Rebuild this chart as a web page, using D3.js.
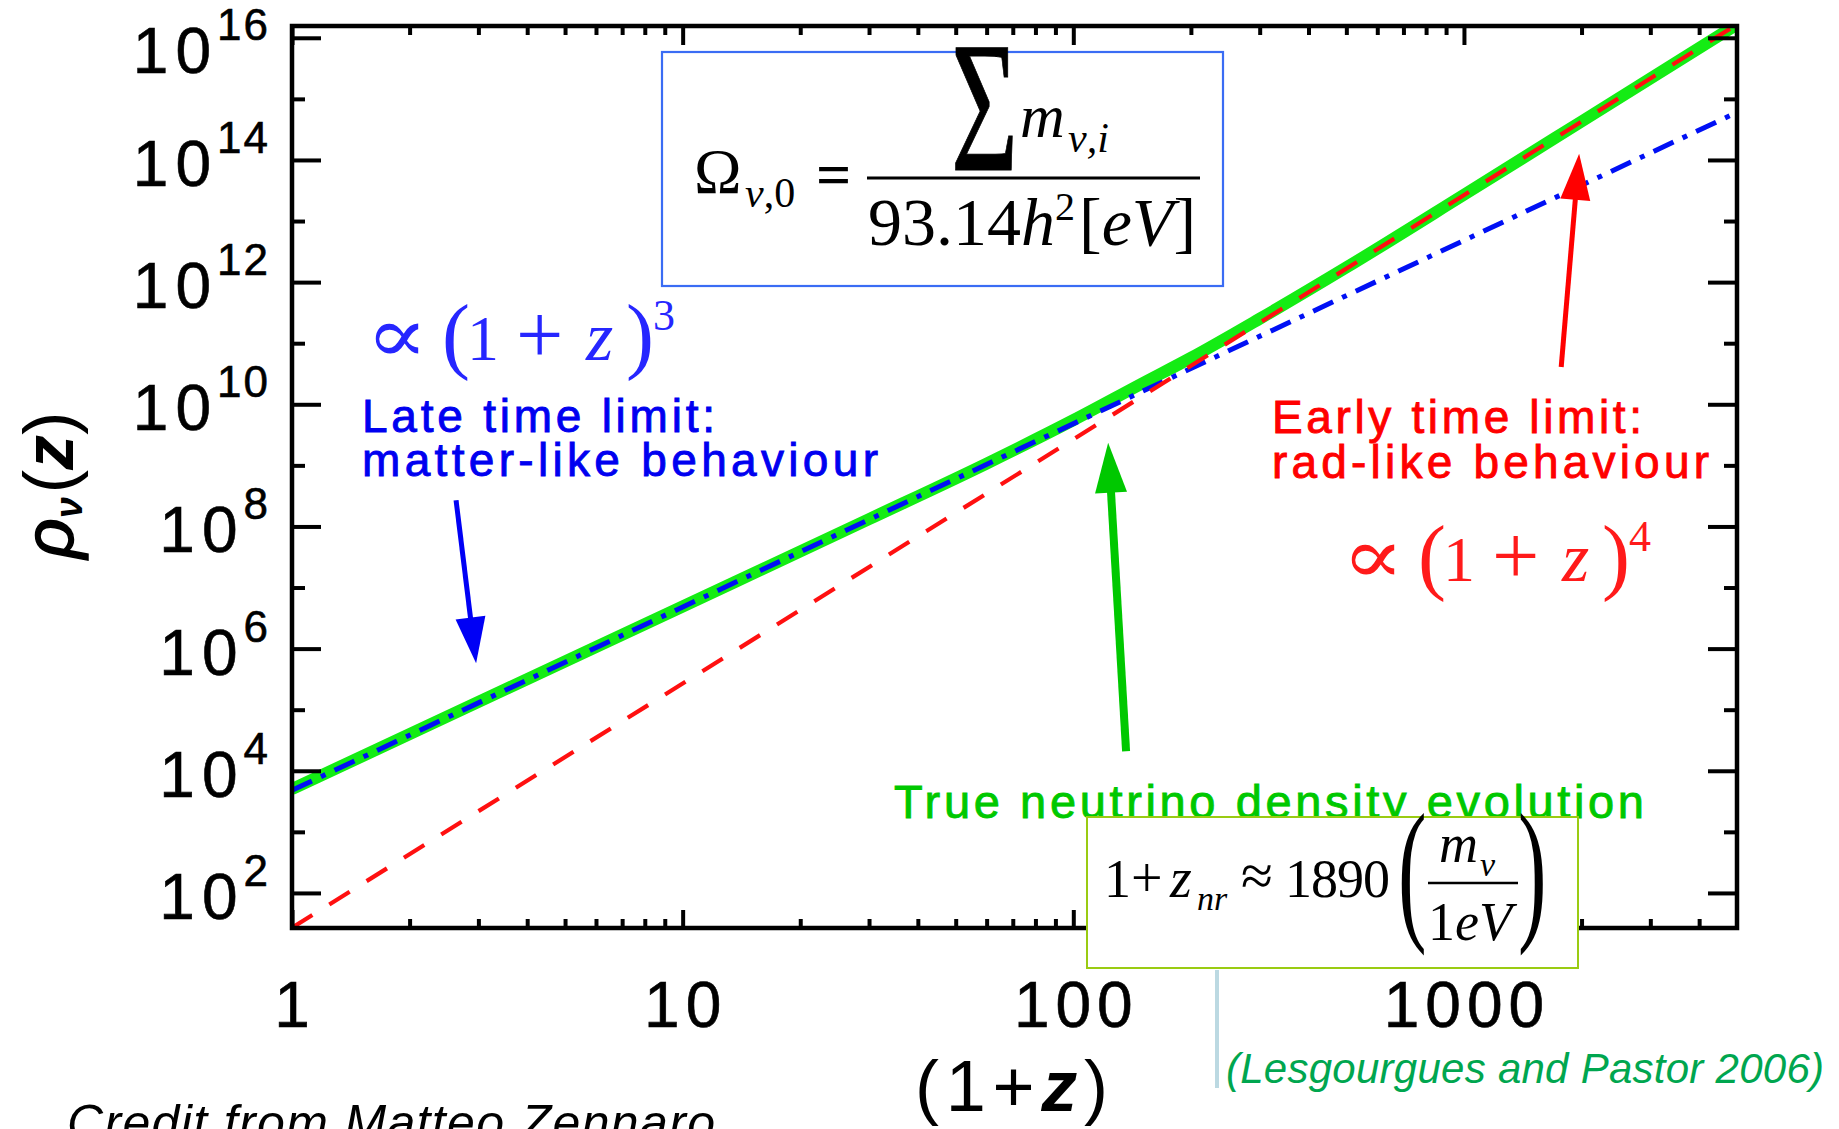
<!DOCTYPE html>
<html>
<head>
<meta charset="utf-8">
<script src="https://cdn.jsdelivr.net/npm/d3@7"></script>
<style>
  html, body { margin: 0; padding: 0; background: #ffffff; }
  svg { display: block; }
</style>
</head>
<body>
<svg id="chart" width="1839" height="1129"></svg>
<script>
// ---- data -------------------------------------------------------------
const xTickValues = [1, 10, 100, 1000];
const xTickLabels = ["1", "10", "100", "1000"];
const yTickExponents = [2, 4, 6, 8, 10, 12, 14, 16];
const yMinorExponents = [3, 5, 7, 9, 11, 13, 15];

// (1+z) range covered by the two limiting power laws
const zLimits = [1, 5000];
const logRhoMatter = [3.68, 14.78];   // late-time limit, ∝ (1+z)^3
const logRhoRad = [1.43, 16.22];      // early-time limit, ∝ (1+z)^4

// true neutrino density, log10 values
const zTrue = [1, 10, 30, 60, 100, 150, 200, 300, 500, 1000, 2000, 5000];
const logRhoTrue = [3.70, 6.69, 8.12, 9.03, 9.74, 10.34, 10.76, 11.40, 12.24, 13.43, 14.63, 16.22];

// ---- setup ------------------------------------------------------------
const svg = d3.select("#chart");
const SANS = "'Liberation Sans', Arial, Helvetica, sans-serif";
const SERIF = "'Liberation Serif', 'Times New Roman', 'DejaVu Serif', serif";
const plot = { left: 292, right: 1737, top: 26, bottom: 928 };

const x = d3.scaleLog().domain([1, 5000]).range([plot.left, plot.right]);
const y = d3.scaleLog().domain([Math.pow(10, 1.426), Math.pow(10, 16.193)]).range([plot.bottom, plot.top]);
const P = v => Math.pow(10, v);

svg.append("rect").attr("width", 1839).attr("height", 1129).attr("fill", "#fff");

svg.append("defs").append("clipPath").attr("id", "plotClip")
  .append("rect")
  .attr("x", plot.left).attr("y", plot.top)
  .attr("width", plot.right - plot.left).attr("height", plot.bottom - plot.top);

// ---- curves -----------------------------------------------------------
const curves = svg.append("g").attr("clip-path", "url(#plotClip)");
const line = d3.line().x(d => x(d[0])).y(d => y(P(d[1])));

curves.append("path")
  .datum(d3.zip(zTrue, logRhoTrue))
  .attr("d", line.curve(d3.curveMonotoneX))
  .attr("fill", "none").attr("stroke", "#14ec14").attr("stroke-width", 12)
  .attr("stroke-linejoin", "round");

curves.append("path")
  .datum(d3.zip(zLimits, logRhoMatter))
  .attr("d", d3.line().x(d => x(d[0])).y(d => y(P(d[1]))))
  .attr("fill", "none").attr("stroke", "#0010f5").attr("stroke-width", 5)
  .attr("stroke-dasharray", "22,10,5,10");

curves.append("path")
  .datum(d3.zip(zLimits, logRhoRad))
  .attr("d", d3.line().x(d => x(d[0])).y(d => y(P(d[1]))))
  .attr("fill", "none").attr("stroke", "#ff1010").attr("stroke-width", 4.2)
  .attr("stroke-dasharray", "24,20");

// ---- axes (IDL style, ticks inside on all four sides) ------------------
const xMinor = x.ticks().filter(v => !xTickValues.includes(v) && v < 5000);
const yMajor = yTickExponents.map(P);
const yMinor = yMinorExponents.map(P);

function drawAxis(axis, transform) {
  const g = svg.append("g").attr("transform", transform).call(axis);
  g.select(".domain").remove();
  g.selectAll("text").remove();
  g.selectAll("line").attr("stroke", "#000").attr("stroke-width", 4);
}
drawAxis(d3.axisBottom(x).tickValues(xTickValues).tickSize(-18), `translate(0,${plot.bottom})`);
drawAxis(d3.axisBottom(x).tickValues(xMinor).tickSize(-9), `translate(0,${plot.bottom})`);
drawAxis(d3.axisTop(x).tickValues(xTickValues).tickSize(-19), `translate(0,${plot.top})`);
drawAxis(d3.axisTop(x).tickValues(xMinor).tickSize(-9), `translate(0,${plot.top})`);
drawAxis(d3.axisLeft(y).tickValues(yMajor).tickSize(-29), `translate(${plot.left},0)`);
drawAxis(d3.axisLeft(y).tickValues(yMinor).tickSize(-13), `translate(${plot.left},0)`);
drawAxis(d3.axisRight(y).tickValues(yMajor).tickSize(-29), `translate(${plot.right},0)`);
drawAxis(d3.axisRight(y).tickValues(yMinor).tickSize(-13), `translate(${plot.right},0)`);

svg.append("rect")
  .attr("x", plot.left).attr("y", plot.top)
  .attr("width", plot.right - plot.left).attr("height", plot.bottom - plot.top)
  .attr("fill", "none").attr("stroke", "#000").attr("stroke-width", 4.5);

// tick labels
const topExp = d3.max(yTickExponents);
yTickExponents.forEach(e => {
  const t = svg.append("text")
    .attr("x", 270).attr("y", y(P(e)) + (e === topExp ? 35 : 26))
    .attr("text-anchor", "end").attr("font-family", SANS).attr("fill", "#000")
    .attr("stroke", "#000").attr("stroke-width", 0.6);
  t.append("tspan").attr("font-size", 64).attr("letter-spacing", 7).text("10");
  t.append("tspan").attr("font-size", 44).attr("dy", -33).attr("dx", -1).attr("letter-spacing", 2).text(e);
});

xTickValues.forEach((v, i) => {
  svg.append("text")
    .attr("x", x(v) + 3).attr("y", 1027)
    .attr("text-anchor", "middle").attr("font-family", SANS)
    .attr("font-size", 64).attr("letter-spacing", 6).attr("fill", "#000")
    .attr("stroke", "#000").attr("stroke-width", 0.6)
    .text(xTickLabels[i]);
});

// axis titles
const xt = svg.append("text")
  .attr("x", 915).attr("y", 1111).attr("font-family", SANS).attr("font-size", 72)
  .attr("textLength", 193).attr("lengthAdjust", "spacing").attr("fill", "#000");
xt.append("tspan").text("(1+");
xt.append("tspan").attr("font-weight", "bold").attr("font-style", "italic").text("z");
xt.append("tspan").text(")");

const yt = svg.append("text")
  .attr("transform", "translate(73,485) rotate(-90)")
  .attr("text-anchor", "middle").attr("font-family", SANS).attr("font-size", 70).attr("fill", "#000");
yt.append("tspan").attr("font-style", "italic").attr("stroke", "#000").attr("stroke-width", 1.5).text("ρ");
yt.append("tspan").attr("font-size", 38).attr("font-weight", "bold").attr("font-style", "italic").attr("dy", 9).text("ν");
yt.append("tspan").attr("dy", -9).attr("dx", 4).text("(");
yt.append("tspan").attr("font-weight", "bold").attr("font-style", "italic").text("z");
yt.append("tspan").text(")");

// ---- annotations ------------------------------------------------------
function label(x0, y0, text, color, size, width, extra) {
  const t = svg.append("text")
    .attr("x", x0).attr("y", y0).attr("font-family", SANS).attr("font-size", size)
    .attr("fill", color).text(text);
  if (width) t.attr("textLength", width).attr("lengthAdjust", "spacing");
  if (extra) extra(t);
  return t;
}
const heavy = c => t => t.attr("stroke", c).attr("stroke-width", 0.9);

label(362, 432, "Late time limit:", "#0000f0", 46, 353, heavy("#0000f0"));
label(362, 476, "matter-like behaviour", "#0000f0", 46, 516, heavy("#0000f0"));
label(1272, 433, "Early time limit:", "#ff0000", 46, 370, heavy("#ff0000"));
label(1272, 478, "rad-like behaviour", "#ff0000", 46, 437, heavy("#ff0000"));
label(894, 818, "True neutrino density evolution", "#00c800", 47, 750, heavy("#00c800"));
label(1226, 1083, "(Lesgourgues and Pastor 2006)", "#00a64f", 42, 598, t => t.attr("font-style", "italic"));
label(67, 1140, "Credit from Matteo Zennaro", "#000", 50, 648, t => t.attr("font-style", "italic"));

// proportionality formulas, ∝ (1+z)^n
function propTo(dx, dy, exponent, color) {
  const g = svg.append("g").attr("transform", `translate(${dx},${dy})`)
    .attr("fill", color).attr("font-family", SERIF);
  g.append("text").attr("x", 366).attr("y", 362).attr("font-size", 92)
    .attr("font-family", "'DejaVu Serif', serif").attr("transform", "translate(366,362) scale(1,0.85) translate(-366,-362)").text("∝");
  g.append("text").attr("x", 442).attr("y", 363).attr("font-size", 84).text("(");
  g.append("text").attr("x", 467).attr("y", 360).attr("font-size", 64).text("1");
  g.append("text").attr("x", 516).attr("y", 363).attr("font-size", 84).text("+");
  g.append("text").attr("x", 586).attr("y", 360).attr("font-size", 70).attr("font-style", "italic").text("z");
  g.append("text").attr("x", 626).attr("y", 363).attr("font-size", 84).text(")");
  g.append("text").attr("x", 653).attr("y", 330).attr("font-size", 44).text(exponent);
}
propTo(0, 0, "3", "#2626ff");
propTo(976, 221, "4", "#ff1a1a");

// arrows, anchored in data coordinates
const arrows = [
  { from: [2.63, 8.43], to: [2.96, 5.76], color: "#0000f5", w: 5, head: 46, half: 15 },
  { from: [136.5, 4.32], to: [122.8, 9.37], color: "#00c800", w: 8, head: 50, half: 16 },
  { from: [1774, 10.61], to: [1972, 14.10], color: "#ff0000", w: 5, head: 46, half: 15 }
];
arrows.forEach(a => {
  const x0 = x(a.from[0]), y0 = y(P(a.from[1]));
  const x1 = x(a.to[0]), y1 = y(P(a.to[1]));
  const len = Math.hypot(x1 - x0, y1 - y0);
  const ux = (x1 - x0) / len, uy = (y1 - y0) / len;
  const bx = x1 - ux * a.head, by = y1 - uy * a.head;
  svg.append("line")
    .attr("x1", x0).attr("y1", y0).attr("x2", bx + ux * 2).attr("y2", by + uy * 2)
    .attr("stroke", a.color).attr("stroke-width", a.w);
  svg.append("polygon")
    .attr("points", [[x1, y1], [bx - uy * a.half, by + ux * a.half], [bx + uy * a.half, by - ux * a.half]].map(p => p.join(",")).join(" "))
    .attr("fill", a.color);
});

// density parameter box
svg.append("rect").attr("x", 662).attr("y", 52).attr("width", 561).attr("height", 234)
  .attr("fill", "#fff").attr("stroke", "#3a6cf4").attr("stroke-width", 2.2);
const f1 = svg.append("g").attr("font-family", SERIF).attr("fill", "#000");
f1.append("text").attr("x", 694).attr("y", 193).attr("font-size", 64).text("Ω");
const sub1 = f1.append("text").attr("x", 745).attr("y", 207).attr("font-size", 42);
sub1.append("tspan").attr("font-style", "italic").text("ν");
sub1.append("tspan").text(",0");
f1.append("text").attr("x", 816).attr("y", 195).attr("font-size", 62).attr("font-weight", "bold").text("=");
f1.append("line").attr("x1", 867).attr("x2", 1200).attr("y1", 178).attr("y2", 178)
  .attr("stroke", "#000").attr("stroke-width", 3);
f1.append("text").attr("transform", "translate(951,170) scale(0.62,1)").attr("font-size", 186)
  .attr("stroke", "#000").attr("stroke-width", 1).text("Σ");
f1.append("text").attr("x", 1020).attr("y", 137).attr("font-size", 62).attr("font-style", "italic").text("m");
f1.append("text").attr("x", 1068).attr("y", 152).attr("font-size", 42).attr("font-style", "italic").text("ν,i");
const den = f1.append("text").attr("x", 868).attr("y", 245).attr("font-size", 68);
den.append("tspan").text("93.14");
den.append("tspan").attr("font-style", "italic").text("h");
den.append("tspan").attr("font-size", 40).attr("dy", -25).text("2");
den.append("tspan").attr("dy", 25).attr("dx", 4).text("[");
den.append("tspan").attr("font-style", "italic").text("eV");
den.append("tspan").text("]");

// non-relativistic transition box
svg.append("line").attr("x1", 1217).attr("x2", 1217).attr("y1", 970).attr("y2", 1088)
  .attr("stroke", "#bcd9e2").attr("stroke-width", 4);
svg.append("rect").attr("x", 1087).attr("y", 817).attr("width", 491).attr("height", 151)
  .attr("fill", "#fff").attr("stroke", "#9acb12").attr("stroke-width", 2);
const f2 = svg.append("g").attr("font-family", SERIF).attr("fill", "#000");
f2.append("text").attr("x", 1104).attr("y", 897).attr("font-size", 54).text("1");
f2.append("text").attr("x", 1131).attr("y", 897).attr("font-size", 56).text("+");
f2.append("text").attr("x", 1170).attr("y", 897).attr("font-size", 56).attr("font-style", "italic").text("z");
f2.append("text").attr("x", 1197).attr("y", 910).attr("font-size", 34).attr("font-style", "italic").text("nr");
f2.append("text").attr("x", 1241).attr("y", 895).attr("font-size", 58).text("≈");
f2.append("text").attr("x", 1285).attr("y", 897).attr("font-size", 54).attr("letter-spacing", -1).text("1890");
f2.append("text").attr("transform", "translate(1398,922) scale(0.55,1)").attr("font-size", 156).text("(");
f2.append("text").attr("transform", "translate(1518,922) scale(0.55,1)").attr("font-size", 156).text(")");
f2.append("text").attr("x", 1439).attr("y", 862).attr("font-size", 54).attr("font-style", "italic").text("m");
f2.append("text").attr("x", 1480).attr("y", 876).attr("font-size", 34).attr("font-style", "italic").text("ν");
f2.append("line").attr("x1", 1428).attr("x2", 1518).attr("y1", 883).attr("y2", 883)
  .attr("stroke", "#000").attr("stroke-width", 2.5);
const unit = f2.append("text").attr("x", 1428).attr("y", 940).attr("font-size", 54);
unit.append("tspan").text("1");
unit.append("tspan").attr("font-style", "italic").text("eV");
</script>
</body>
</html>
